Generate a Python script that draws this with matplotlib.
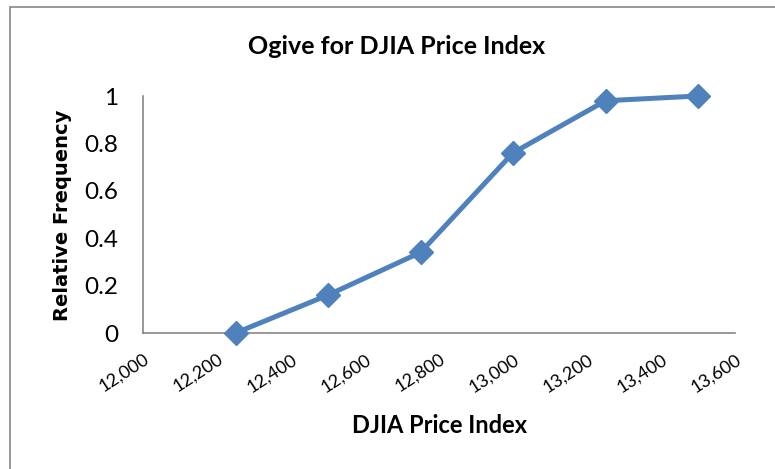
import matplotlib.pyplot as plt
from matplotlib.patches import Rectangle

# values
price_index = [12250, 12500, 12750, 13000, 13250, 13500]
rel_freq = [0.0, 0.16, 0.34, 0.76, 0.98, 1.0]
x_ticks = [12000, 12200, 12400, 12600, 12800, 13000, 13200, 13400, 13600]
y_ticks = [0, 0.2, 0.4, 0.6, 0.8, 1]
y_tick_labels = ["0", "0.2", "0.4", "0.6", "0.8", "1"]

BLUE = "#4F81BD"
GRAY = "#868686"
FONT = "Lato"

fig = plt.figure(figsize=(7.75, 4.69), dpi=100)
ax = fig.add_axes([143 / 775, 1 - 333 / 469, (735 - 143) / 775, (333 - 96) / 469])

ax.plot(price_index, rel_freq, color=BLUE, lw=3.6, marker="D", ms=12.5,
        markerfacecolor=BLUE, markeredgecolor=BLUE, clip_on=False, zorder=3)

ax.set_xlim(12000, 13600)
ax.set_ylim(0, 1)
ax.set_xticks(x_ticks)
ax.set_xticklabels([f"{v:,}" for v in x_ticks], rotation=33, ha="right", va="top",
                   rotation_mode="anchor", fontsize=13, family=FONT)
ax.set_yticks(y_ticks)
ax.set_yticklabels(y_tick_labels, fontsize=17.5, family=FONT)
ax.tick_params(axis="both", length=0)
ax.tick_params(axis="y", pad=18)
ax.tick_params(axis="x", pad=13)

for side in ("top", "right"):
    ax.spines[side].set_visible(False)
for side in ("left", "bottom"):
    ax.spines[side].set_color(GRAY)
    ax.spines[side].set_linewidth(1.2)

fig.text(397 / 775, 1 - 47 / 469, "Ogive for DJIA Price Index", ha="center", va="center",
         fontsize=18, fontweight="bold", family=FONT)
fig.text(62 / 775, 1 - 215 / 469, "Relative Frequency", ha="center", va="center",
         rotation=90, fontsize=14, fontweight="bold", family="DejaVu Sans")
fig.text(440 / 775, 1 - 425 / 469, "DJIA Price Index", ha="center", va="center",
         fontsize=17, fontweight="bold", family=FONT)

# outer chart frame (right/bottom edges fall outside the picture)
fig.patches.append(Rectangle((10 / 775, -0.1), 1.2, 1.1 - 7 / 469, transform=fig.transFigure,
                             fill=False, edgecolor=GRAY, lw=1.2))

fig.savefig("out.png", dpi=100)
